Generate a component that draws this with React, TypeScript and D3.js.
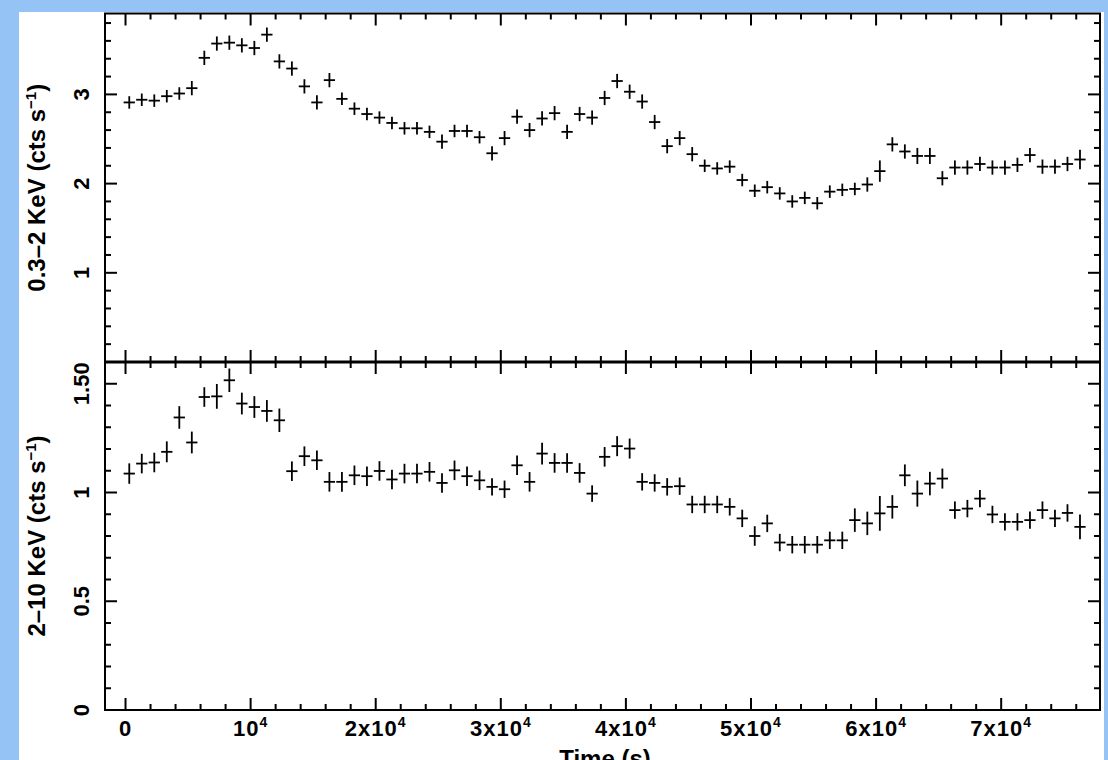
import React from "react";
import * as d3 from "d3";

// ---- data ----
const times: number[] = [
  300, 1300, 2300, 3300, 4300, 5300, 6300, 7300, 8300, 9300,
  10300, 11300, 12300, 13300, 14300, 15300, 16300, 17300, 18300, 19300,
  20300, 21300, 22300, 23300, 24300, 25300, 26300, 27300, 28300, 29300,
  30300, 31300, 32300, 33300, 34300, 35300, 36300, 37300, 38300, 39300,
  40300, 41300, 42300, 43300, 44300, 45300, 46300, 47300, 48300, 49300,
  50300, 51300, 52300, 53300, 54300, 55300, 56300, 57300, 58300, 59300,
  60300, 61300, 62300, 63300, 64300, 65300, 66300, 67300, 68300, 69300,
  70300, 71300, 72300, 73300, 74300, 75300, 76300,
];
const timeHalfWidth = 450;

const softRate: number[] = [
  2.91, 2.94, 2.93, 2.98, 3.01, 3.07, 3.41, 3.57, 3.58, 3.55,
  3.52, 3.67, 3.37, 3.29, 3.09, 2.91, 3.16, 2.95, 2.84, 2.78,
  2.74, 2.68, 2.62, 2.62, 2.58, 2.47, 2.59, 2.59, 2.52, 2.34,
  2.51, 2.75, 2.6, 2.73, 2.79, 2.58, 2.78, 2.74, 2.96, 3.15,
  3.03, 2.92, 2.69, 2.42, 2.51, 2.33, 2.2, 2.17, 2.19, 2.04,
  1.92, 1.96, 1.89, 1.8, 1.84, 1.78, 1.91, 1.93, 1.94, 1.99,
  2.14, 2.44, 2.36, 2.31, 2.31, 2.06, 2.18, 2.18, 2.22, 2.18,
  2.18, 2.21, 2.32, 2.19, 2.19, 2.22, 2.27,
];
const softErr: number[] = [
  0.07, 0.07, 0.07, 0.07, 0.07, 0.08, 0.08, 0.08, 0.08, 0.08,
  0.08, 0.08, 0.08, 0.08, 0.08, 0.08, 0.08, 0.07, 0.07, 0.07,
  0.07, 0.07, 0.07, 0.07, 0.07, 0.08, 0.07, 0.07, 0.07, 0.08,
  0.08, 0.08, 0.08, 0.08, 0.08, 0.08, 0.08, 0.08, 0.08, 0.08,
  0.08, 0.08, 0.08, 0.08, 0.08, 0.08, 0.07, 0.07, 0.07, 0.07,
  0.07, 0.07, 0.07, 0.07, 0.07, 0.07, 0.07, 0.07, 0.07, 0.08,
  0.12, 0.08, 0.08, 0.09, 0.09, 0.08, 0.08, 0.08, 0.08, 0.08,
  0.08, 0.08, 0.08, 0.08, 0.08, 0.08, 0.11,
];

const hardRate: number[] = [
  1.087, 1.133, 1.138, 1.187, 1.345, 1.23, 1.439, 1.442, 1.516, 1.409,
  1.393, 1.375, 1.332, 1.098, 1.167, 1.148, 1.049, 1.049, 1.079, 1.075,
  1.099, 1.06, 1.087, 1.087, 1.095, 1.044, 1.102, 1.075, 1.056, 1.026,
  1.015, 1.125, 1.049, 1.179, 1.136, 1.136, 1.09, 0.995, 1.164, 1.213,
  1.202, 1.049, 1.044, 1.026, 1.029, 0.945, 0.945, 0.945, 0.934, 0.881,
  0.8, 0.858, 0.77, 0.76, 0.76, 0.76, 0.78, 0.78, 0.873, 0.858,
  0.904, 0.934, 1.079, 0.995, 1.041, 1.064, 0.919, 0.926, 0.972, 0.899,
  0.865, 0.865, 0.873, 0.919, 0.881, 0.906, 0.842,
];
const hardErr: number[] = [
  0.047, 0.045, 0.045, 0.048, 0.052, 0.05, 0.045, 0.057, 0.054, 0.05,
  0.05, 0.05, 0.054, 0.045, 0.045, 0.045, 0.045, 0.045, 0.045, 0.045,
  0.045, 0.045, 0.045, 0.045, 0.045, 0.045, 0.045, 0.045, 0.045, 0.04,
  0.04, 0.045, 0.045, 0.05, 0.045, 0.045, 0.045, 0.038, 0.045, 0.046,
  0.046, 0.04, 0.04, 0.04, 0.04, 0.04, 0.04, 0.04, 0.04, 0.04,
  0.045, 0.04, 0.04, 0.04, 0.04, 0.04, 0.04, 0.04, 0.054, 0.054,
  0.08, 0.054, 0.05, 0.06, 0.054, 0.046, 0.04, 0.04, 0.04, 0.04,
  0.04, 0.04, 0.04, 0.04, 0.04, 0.04, 0.057,
];

const xMajorTicks: number[] = [0, 10000, 20000, 30000, 40000, 50000, 60000, 70000];
const xTickBase: string[] = ["0", "10", "2x10", "3x10", "4x10", "5x10", "6x10", "7x10"];
const xTickSup: string[] = ["", "4", "4", "4", "4", "4", "4", "4"];
const softMajor: number[] = [1, 2, 3];
const softLabels: string[] = ["1", "2", "3"];
const hardMajor: number[] = [0, 0.5, 1, 1.5];
const hardLabels: string[] = ["0", "0.5", "1", "1.50"];

// ---- layout ----
const W = 1108;
const H = 760;
const L = 105;
const R = 1100;
const T = 13.5;
const M = 362;
const B = 710;

const FONT = "'Liberation Sans', Arial, Helvetica, sans-serif";

export default function App() {
  const x = d3.scaleLinear().domain([-1640, 77900]).range([L, R]);
  const ySoft = d3.scaleLinear().domain([0, 3.907]).range([M, T]);
  const yHard = d3.scaleLinear().domain([0, 1.6]).range([B, M]);

  const xMinor = d3.range(0, 78000, 2000).filter((v) => v % 10000 !== 0);
  const softMinor = d3.range(0.2, 3.9, 0.2).filter((v) => Math.abs(v - Math.round(v)) > 0.01);
  const hardMinor = d3.range(0.1, 1.6, 0.1).filter((v) => Math.abs(v * 2 - Math.round(v * 2)) > 0.01);

  const MAJ = 12;
  const MIN = 6;
  const sw = 2;

  const xTickLines = (y: number, dir: number, both: boolean) => (
    <g>
      {xMajorTicks.map((t) => (
        <line key={"M" + t} x1={x(t)} x2={x(t)} y1={both ? y - MAJ : y} y2={y + dir * MAJ} stroke="#000" strokeWidth={sw} />
      ))}
      {xMinor.map((t) => (
        <line key={"m" + t} x1={x(t)} x2={x(t)} y1={both ? y - MIN : y} y2={y + dir * MIN} stroke="#000" strokeWidth={sw} />
      ))}
    </g>
  );

  const yTickLines = (scale: d3.ScaleLinear<number, number>, major: number[], minor: number[]) => (
    <g>
      {major.map((v) => (
        <g key={"M" + v}>
          <line x1={L} x2={L + MAJ} y1={scale(v)} y2={scale(v)} stroke="#000" strokeWidth={sw} />
          <line x1={R} x2={R - MAJ} y1={scale(v)} y2={scale(v)} stroke="#000" strokeWidth={sw} />
        </g>
      ))}
      {minor.map((v) => (
        <g key={"m" + v}>
          <line x1={L} x2={L + MIN} y1={scale(v)} y2={scale(v)} stroke="#000" strokeWidth={sw} />
          <line x1={R} x2={R - MIN} y1={scale(v)} y2={scale(v)} stroke="#000" strokeWidth={sw} />
        </g>
      ))}
    </g>
  );

  const crosses = (scale: d3.ScaleLinear<number, number>, vals: number[], errs: number[]) => (
    <g stroke="#000" strokeWidth={1.8}>
      {vals.map((v, i) => (
        <g key={i}>
          <line x1={x(times[i] - timeHalfWidth)} x2={x(times[i] + timeHalfWidth)} y1={scale(v)} y2={scale(v)} />
          <line x1={x(times[i])} x2={x(times[i])} y1={scale(v - errs[i])} y2={scale(v + errs[i])} />
        </g>
      ))}
    </g>
  );

  return (
    <svg
      width={W}
      height={H}
      style={{ position: "absolute", left: 0, top: 0, display: "block" }}
      fontFamily={FONT}
    >
      <rect x={0} y={0} width={W} height={H} fill="#95c3f6" />
      <rect x={19} y={12} width={1085} height={H - 12} fill="#ffffff" />

      {/* frames */}
      <rect x={L} y={T} width={R - L} height={B - T} fill="none" stroke="#000" strokeWidth={sw} />
      <line x1={L} x2={R} y1={M} y2={M} stroke="#000" strokeWidth={3} />

      {/* ticks */}
      {xTickLines(T, 1, false)}
      {xTickLines(M, 1, true)}
      {xTickLines(B, -1, false)}
      {yTickLines(ySoft, softMajor, softMinor)}
      {yTickLines(yHard, hardMajor, hardMinor)}

      {/* data */}
      {crosses(ySoft, softRate, softErr)}
      {crosses(yHard, hardRate, hardErr)}

      {/* y tick labels */}
      <g fontSize={22} fontWeight="bold" textAnchor="middle" fill="#000">
        {softMajor.map((v, i) => (
          <text key={"s" + v} transform={`translate(89,${ySoft(v)}) rotate(-90)`}>{softLabels[i]}</text>
        ))}
        {hardMajor.map((v, i) => (
          <text key={"h" + v} transform={`translate(89,${yHard(v)}) rotate(-90)`}>{hardLabels[i]}</text>
        ))}
      </g>

      {/* x tick labels */}
      <g fontSize={22} fontWeight="bold" textAnchor="middle" fill="#000">
        {xMajorTicks.map((t, i) => (
          <text key={t} x={x(t)} y={736} letterSpacing={1}>
            {xTickBase[i]}
            {xTickSup[i] ? (
              <tspan fontSize={14} dy={-9}>{xTickSup[i]}</tspan>
            ) : null}
          </text>
        ))}
      </g>

      {/* axis titles */}
      <g fontSize={24} fontWeight="bold" textAnchor="middle" fill="#000">
        <text transform={`translate(45,${(T + M) / 2}) rotate(-90)`}>
          0.3–2 KeV (cts s<tspan fontSize={15} dy={-9}>−1</tspan><tspan dy={9}>)</tspan>
        </text>
        <text transform={`translate(45,${(M + B) / 2}) rotate(-90)`}>
          2–10 KeV (cts s<tspan fontSize={15} dy={-9}>−1</tspan><tspan dy={9}>)</tspan>
        </text>
        <text x={605} y={767}>Time (s)</text>
      </g>
    </svg>
  );
}
